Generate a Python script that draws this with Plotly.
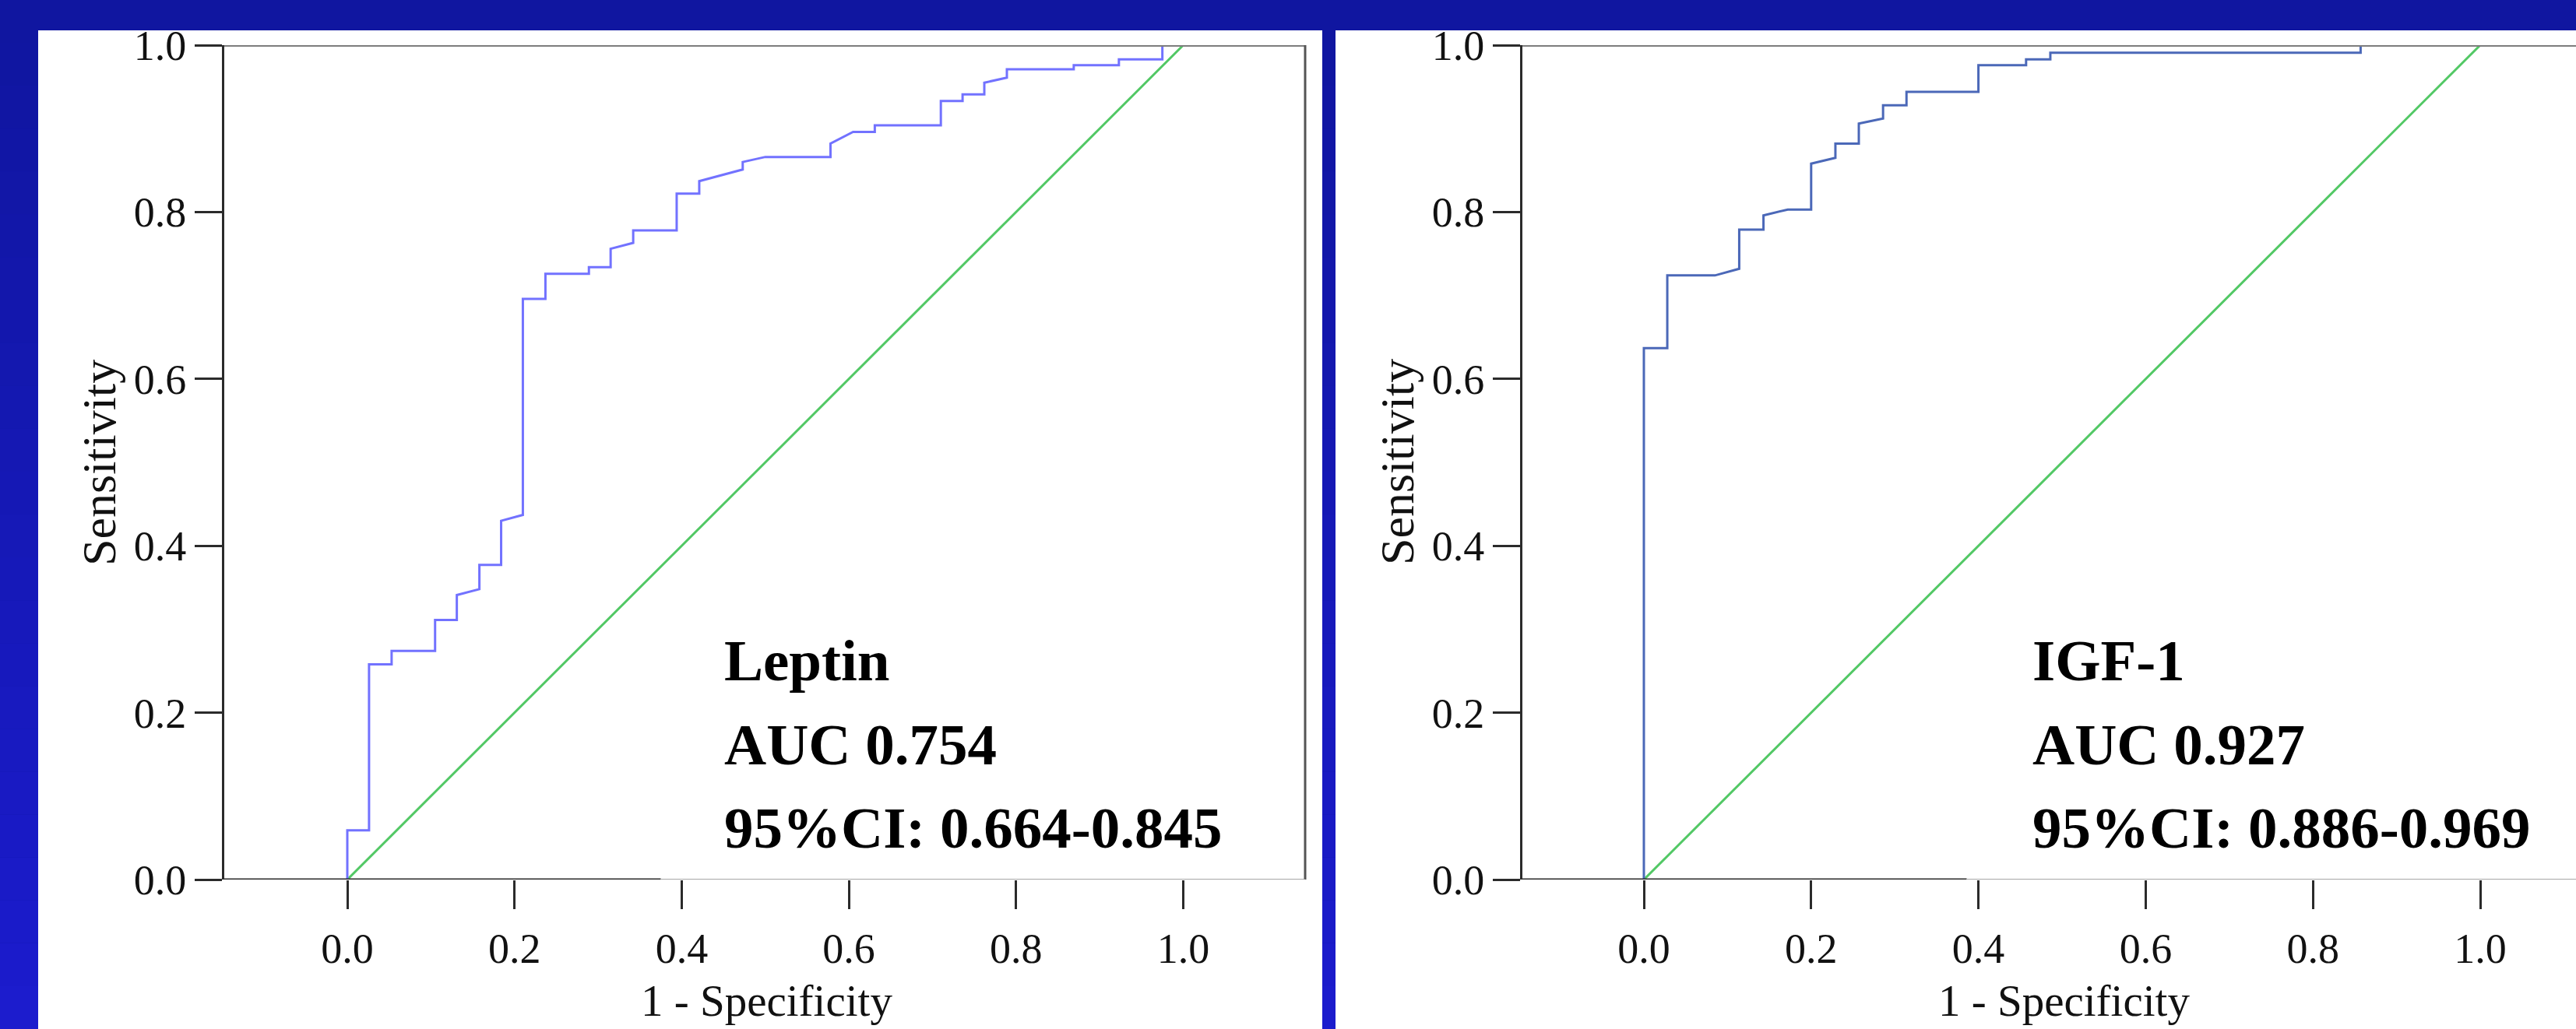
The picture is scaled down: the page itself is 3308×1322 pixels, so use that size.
import plotly.graph_objects as go

W, H = 3308, 1322

# ---------------- data ----------------
leptin_fpr = [0, 0, 0.026, 0.026, 0.053, 0.053, 0.105, 0.105, 0.131, 0.131, 0.158, 0.158,
              0.184, 0.184, 0.210, 0.210, 0.237, 0.237, 0.289, 0.289, 0.315, 0.315, 0.342,
              0.342, 0.394, 0.394, 0.421, 0.421, 0.473, 0.473, 0.500, 0.578, 0.578, 0.605,
              0.631, 0.631, 0.710, 0.710, 0.736, 0.736, 0.762, 0.762, 0.789, 0.789, 0.869,
              0.869, 0.923, 0.923, 0.975, 0.975, 1.0]
leptin_tpr = [0, 0.059, 0.059, 0.258, 0.258, 0.274, 0.274, 0.311, 0.311, 0.341, 0.348, 0.377,
              0.377, 0.430, 0.437, 0.696, 0.696, 0.726, 0.726, 0.734, 0.734, 0.756, 0.763,
              0.778, 0.778, 0.822, 0.822, 0.837, 0.851, 0.860, 0.866, 0.866, 0.882, 0.896,
              0.896, 0.904, 0.904, 0.933, 0.933, 0.941, 0.941, 0.955, 0.961, 0.971, 0.971,
              0.976, 0.976, 0.983, 0.983, 1.0, 1.0]

igf1_fpr = [0, 0, 0.028, 0.028, 0.085, 0.114, 0.114, 0.143, 0.143, 0.172, 0.200, 0.200,
            0.229, 0.229, 0.257, 0.257, 0.286, 0.286, 0.314, 0.314, 0.400, 0.400, 0.457,
            0.457, 0.486, 0.486, 0.857, 0.857, 1.0]
igf1_tpr = [0, 0.637, 0.637, 0.724, 0.724, 0.732, 0.779, 0.779, 0.796, 0.803, 0.803, 0.858,
            0.865, 0.882, 0.882, 0.906, 0.912, 0.928, 0.928, 0.944, 0.944, 0.976, 0.976,
            0.983, 0.983, 0.991, 0.991, 1.0, 1.0]

ref_x = [0, 1]
ref_y = [0, 1]

tick_vals = [0.0, 0.2, 0.4, 0.6, 0.8, 1.0]
tick_text = ["0.0", "0.2", "0.4", "0.6", "0.8", "1.0"]

panel_labels = [["Leptin", "AUC 0.754", "95%CI: 0.664-0.845"],
                ["IGF-1", "AUC 0.927", "95%CI: 0.886-0.969"]]
x_title = "1 - Specificity"
y_title = "Sensitivity"

# ---------------- layout geometry (pixels) ----------------
def px_x(p):
    return p / W

def px_y(p):  # pixel from top -> paper y
    return (H - p) / H

FONT = "Liberation Serif, Times New Roman, serif"
LEPTIN_COLOR = "#7272ff"
IGF_COLOR = "#4b68b8"
REF_COLOR = "#52c865"
AXIS_COLOR = "#2b2b2b"

fig = go.Figure()

fig.add_trace(go.Scatter(x=ref_x, y=ref_y, mode="lines", line=dict(color=REF_COLOR, width=3),
                         xaxis="x", yaxis="y", showlegend=False, hoverinfo="skip"))
fig.add_trace(go.Scatter(x=leptin_fpr, y=leptin_tpr, mode="lines",
                         line=dict(color=LEPTIN_COLOR, width=3),
                         xaxis="x", yaxis="y", showlegend=False))
fig.add_trace(go.Scatter(x=ref_x, y=ref_y, mode="lines", line=dict(color=REF_COLOR, width=3),
                         xaxis="x2", yaxis="y2", showlegend=False, hoverinfo="skip"))
fig.add_trace(go.Scatter(x=igf1_fpr, y=igf1_tpr, mode="lines",
                         line=dict(color=IGF_COLOR, width=3),
                         xaxis="x2", yaxis="y2", showlegend=False))

ydom = [px_y(1130), px_y(58)]

def xaxis(domain, rng, anchor):
    return dict(domain=domain, range=rng, anchor=anchor, showgrid=False, zeroline=False,
                showline=False, ticks="outside", ticklen=37, tickwidth=3, tickcolor=AXIS_COLOR,
                tickvals=tick_vals, ticktext=tick_text, automargin=False, ticklabelstandoff=4,
                tickfont=dict(family=FONT, size=54, color="#111111"), fixedrange=True)

def yaxis(rng, anchor):
    return dict(domain=ydom, range=rng, anchor=anchor, showgrid=False, zeroline=False,
                showline=True, linecolor=AXIS_COLOR, linewidth=3, ticks="outside", ticklen=35,
                tickwidth=3, tickcolor=AXIS_COLOR, tickvals=tick_vals, ticktext=tick_text,
                automargin=False,
                tickfont=dict(family=FONT, size=54, color="#111111"), fixedrange=True)

x1_range = [(288 - 446) / 1073.5, (1676 - 446) / 1073.5]
x2_range = [(1955 - 2111) / 1074.0, (3308 - 2111) / 1074.0]

fig.update_layout(
    width=W, height=H, autosize=False,
    margin=dict(l=0, r=0, t=0, b=0, pad=0, autoexpand=False),
    paper_bgcolor="#1219aa", plot_bgcolor="rgba(0,0,0,0)",
    showlegend=False,
    xaxis=xaxis([px_x(288), px_x(1676)], x1_range, "y"),
    yaxis=yaxis([0, 1], "x"),
    xaxis2=xaxis([px_x(1955), 1.0], x2_range, "y2"),
    yaxis2=yaxis([0, 1], "x2"),
)

shapes = []
# gradient blue background stripes
n = 24
for i in range(n):
    t = i / (n - 1)
    r = int(16 + (28 - 16) * t)
    g = int(22 + (28 - 22) * t)
    b = int(160 + (205 - 160) * t)
    shapes.append(dict(type="rect", xref="paper", yref="paper", x0=0, x1=1,
                       y0=1 - (i + 1) / n, y1=1 - i / n, fillcolor=f"rgb({r},{g},{b})",
                       line=dict(width=0), layer="below"))
# white panels
shapes.append(dict(type="rect", xref="paper", yref="paper", x0=px_x(49), x1=px_x(1698),
                   y0=0, y1=px_y(39), fillcolor="white", line=dict(width=0), layer="below"))
shapes.append(dict(type="rect", xref="paper", yref="paper", x0=px_x(1715), x1=1,
                   y0=0, y1=px_y(39), fillcolor="white", line=dict(width=0), layer="below"))

# frames
for xr, yr, cut, has_right in [("x", "y", 0.375, True), ("x2", "y2", 0.386, False)]:
    dom = xr + " domain"
    shapes.append(dict(type="line", xref=dom, yref=yr, x0=0, x1=1, y0=1, y1=1,
                       line=dict(color="#7d7d7d", width=4), layer="above"))
    if has_right:
        shapes.append(dict(type="line", xref=dom, yref=yr, x0=1, x1=1, y0=0, y1=1,
                           line=dict(color="#555555", width=3), layer="above"))
    shapes.append(dict(type="line", xref=xr, yref=yr, x0=-0.2, x1=cut, y0=0, y1=0,
                       line=dict(color=AXIS_COLOR, width=3), layer="above"))
    shapes.append(dict(type="line", xref=xr, yref=yr, x0=cut, x1=1.2, y0=0, y1=0,
                       line=dict(color="#8a8a8a", width=1.5), layer="above"))

fig.update_layout(shapes=shapes)

annotations = []
for xr, yc_x in [("x", 127), ("x2", 1794)]:
    annotations.append(dict(text=y_title, xref="paper", yref="paper", x=px_x(yc_x),
                            y=px_y(594), xanchor="center", yanchor="middle", textangle=-90,
                            showarrow=False, font=dict(family=FONT, size=62, color="#111111")))
    annotations.append(dict(text=x_title, xref=xr, yref="paper", x=0.502, y=px_y(1285),
                            xanchor="center", yanchor="middle", showarrow=False,
                            font=dict(family=FONT, size=57, color="#111111")))
for (xr, yr, x0), lines in zip([("x", "y", 0.449), ("x2", "y2", 0.463)], panel_labels):
    for k, line in enumerate(lines):
        ypix = [848, 956, 1063][k]
        annotations.append(dict(text="<b>" + line + "</b>", xref=xr, yref="paper", x=x0,
                                y=px_y(ypix), xanchor="left", yanchor="middle",
                                showarrow=False,
                                font=dict(family=FONT, size=75, color="#000000")))
fig.update_layout(annotations=annotations)

fig.write_html("out.html", include_plotlyjs=True, full_html=True,
               config={"displayModeBar": False},
               post_script="document.body.style.margin='0';document.body.style.overflow='hidden';")
